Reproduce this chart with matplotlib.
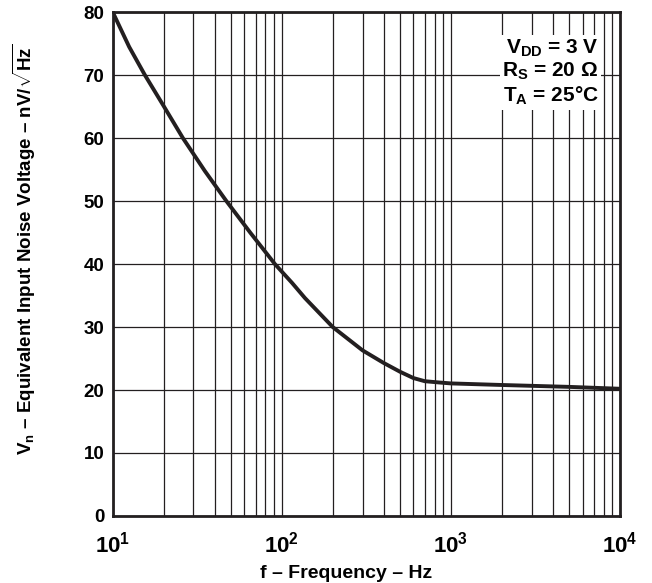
import numpy as np
import matplotlib
matplotlib.use("Agg")
import matplotlib.pyplot as plt
from matplotlib.ticker import FixedLocator, NullFormatter

plt.rcParams['font.family'] = ['Liberation Sans', 'DejaVu Sans']
plt.rcParams['font.weight'] = 'bold'
plt.rcParams['mathtext.fontset'] = 'custom'
plt.rcParams['mathtext.rm'] = 'Liberation Sans:bold'
plt.rcParams['mathtext.bf'] = 'Liberation Sans:bold'
plt.rcParams['mathtext.it'] = 'Liberation Sans:bold'

# values
freq = [10, 12.5, 15.5, 20, 26, 35, 47, 65, 91, 115, 137, 200, 300, 400, 500,
        600, 700, 850, 1000, 2000, 5000, 10000]
noise = [80, 74.5, 70, 65.1, 60, 54.8, 50, 45, 40, 37, 34.6, 30, 26.3, 24.3,
         22.9, 21.9, 21.4, 21.2, 21.05, 20.8, 20.5, 20.2]

yticks = [0, 10, 20, 30, 40, 50, 60, 70, 80]
xticks = [10, 100, 1000, 10000]
xticklabels = [r'$10^{1}$', r'$10^{2}$', r'$10^{3}$', r'$10^{4}$']

fig = plt.figure(figsize=(6.52, 5.83), dpi=100)
ax = fig.add_axes([0.173, 0.115, 0.778, 0.864])

ax.plot(freq, noise, color='#231f20', lw=2.8, zorder=3,
        solid_joinstyle='round')

ax.set_xscale('log')
ax.set_xlim(10, 10000)
ax.set_ylim(0, 80)
ax.set_yticks(yticks)
ax.set_xticks(xticks)
ax.set_xticklabels(xticklabels, fontsize=16)
minors = [m * 10 ** d for d in range(1, 4) for m in range(2, 10)]
ax.xaxis.set_minor_locator(FixedLocator(minors))
ax.xaxis.set_minor_formatter(NullFormatter())
ax.tick_params(axis='both', which='both', length=0)
ax.tick_params(axis='y', labelsize=13.5, pad=6)
ax.tick_params(axis='x', pad=11)
for lab in ax.get_yticklabels():
    lab.set_fontweight('bold')

ax.grid(True, which='major', color='#231f20', lw=0.9)
ax.grid(True, which='minor', axis='x', color='#231f20', lw=0.9)
for s in ax.spines.values():
    s.set_linewidth(2)
    s.set_color('#231f20')

ax.set_xlabel('f – Frequency – Hz', fontsize=14, fontweight='bold', labelpad=6)
ax.xaxis.set_label_coords(0.46, -0.098)
ax.set_ylabel(r'$\mathrm{V_n}$ – Equivalent Input Noise Voltage – nV/$\sqrt{\mathrm{Hz}}$',
              fontsize=13.5, fontweight='bold')
ax.yaxis.set_label_coords(-0.148, 0.53)

cond = '\n'.join([r'$\mathrm{V_{DD}}$ = 3 V',
                  r'$\mathrm{R_S}$ = 20 $\Omega$',
                  r'$\mathrm{T_A}$ = 25$\degree$C'])
ax.text(0.958, 0.95, cond, transform=ax.transAxes, ha='right', va='top',
        fontsize=15, fontweight='bold', linespacing=1.15, zorder=4,
        bbox=dict(facecolor='white', edgecolor='none', pad=2))

fig.savefig('out.png', dpi=100)
